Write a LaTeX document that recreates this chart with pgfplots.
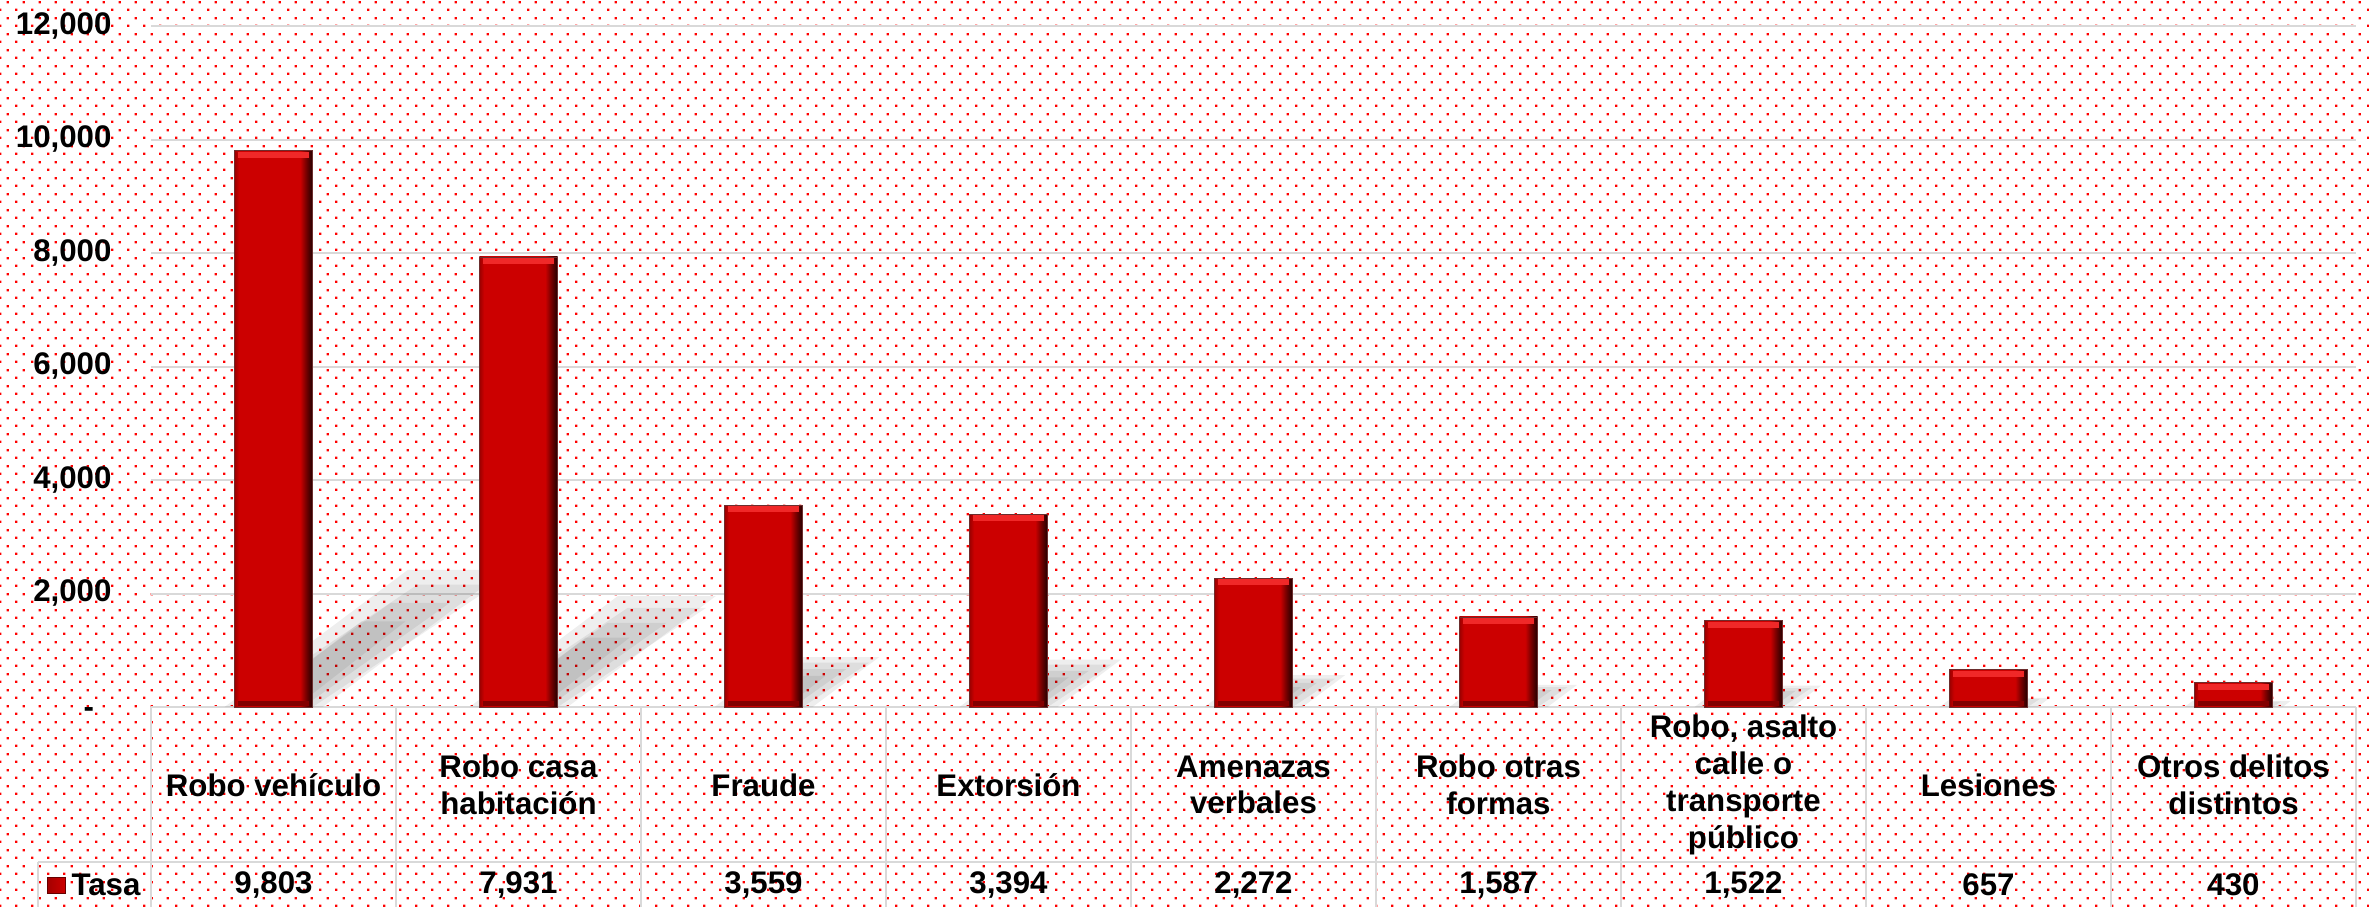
\documentclass[border=0pt]{standalone}
\usepackage{pgfplots}
\pgfplotsset{compat=1.18}
\usepackage{pgfplotstable}
\usepackage{fontspec}
\setmainfont{Liberation Sans}
\usetikzlibrary{patterns.meta}

\definecolor{barred}{RGB}{204,0,0}
\definecolor{topred}{RGB}{240,40,40}
\definecolor{botred}{RGB}{130,0,0}
\definecolor{gridgray}{RGB}{217,217,217}

\pgfdeclarepattern{
  name=reddots, type=uncolored,
  bottom left={\pgfpointorigin}, top right={\pgfpoint{6.4pt}{6.4pt}},
  tile size={\pgfpoint{6.4pt}{6.4pt}},
  code={
    \pgfpathrectangle{\pgfpoint{0pt}{0pt}}{\pgfpoint{1.0pt}{1.0pt}}
    \pgfpathrectangle{\pgfpoint{3.2pt}{3.2pt}}{\pgfpoint{1.0pt}{1.0pt}}
    \pgfusepath{fill}
  }}

\pgfdeclarehorizontalshading{barshade}{100bp}{
  color(0bp)=(barred!75!black); color(25bp)=(barred!75!black);
  color(28bp)=(barred); color(67bp)=(barred);
  color(71bp)=(barred!55!black); color(75bp)=(barred!15!black);
  color(100bp)=(barred!15!black)}

\pgfplotstableread{
x value
0 9803
1 7931
2 3559
3 3394
4 2272
5 1587
6 1522
7 657
8 430
}\datatable

\begin{document}
\begin{tikzpicture}
\useasboundingbox (0,0) rectangle (947.6pt,362.4pt);
\fill[white] (0,0) rectangle (947.6pt,362.4pt);
\fill[pattern=reddots, pattern color=red] (0,0) rectangle (947.6pt,362.4pt);

\begin{axis}[
  at={(60.4pt,79.6pt)}, anchor=south west,
  scale only axis, width=882pt, height=272.4pt,
  xmin=-0.5, xmax=8.5, ymin=0, ymax=12000,
  clip=false,
  axis line style={draw=none},
  major tick length=0pt,
  scaled y ticks=false,
  ymajorgrids, grid style={gridgray, line width=0.8pt},
  ytick={0,2000,4000,6000,8000,10000,12000},
  yticklabels={{-\phantom{0}},{2,000},{4,000},{6,000},{8,000},{10,000},{12,000}},
  yticklabel style={anchor=east, inner sep=0pt, xshift=-15.6pt,
    font=\fontsize{12.5}{14.7}\selectfont\bfseries},
  xtick={0,...,8},
  xticklabels={{Robo vehículo},{Robo casa\\habitación},{Fraude},{Extorsión},
    {Amenazas\\verbales},{Robo otras\\formas},{Robo, asalto\\calle o\\transporte\\público},
    {Lesiones},{Otros delitos\\distintos}},
  xticklabel style={anchor=center, inner sep=0pt, yshift=-31.2pt, align=center,
    font=\fontsize{12.5}{14.7}\selectfont\bfseries},
  /pgf/number format/1000 sep={,},
  /pgf/number format/assume math mode=true,
]
% soft shadows (several translucent layers)
\pgfplotsinvokeforeach{0,...,8}{
  \pgfplotstablegetelem{#1}{value}\of\datatable
  \foreach \f/\w in {1.12/0.20, 1.0/0.16, 0.85/0.12, 0.7/0.09}{
    \pgfmathsetmacro\sxa{#1-\w}
    \pgfmathsetmacro\sxb{#1+\w}
    \pgfmathsetmacro\sxc{#1+\w+0.000071*\f*\pgfplotsretval}
    \pgfmathsetmacro\sxd{#1-\w+0.000071*\f*\pgfplotsretval}
    \pgfmathsetmacro\sy{0.22*\f*\pgfplotsretval}
    \edef\tmp{\noexpand\fill[black, opacity=0.065] (axis cs:\sxa,0) -- (axis cs:\sxb,0) -- (axis cs:\sxc,\sy) -- (axis cs:\sxd,\sy) -- cycle;}
    \tmp
  }
}
% bars, one path each so that each gets its own shading
\pgfplotsinvokeforeach{0,...,8}{
  \addplot[ybar, bar width=0.32, shading=barshade, draw=gray!60!red!60!black, line width=0.3pt,
    x filter/.expression={x==#1 ? x : nan}]
    table[x=x, y=value] {\datatable};
}
% bevel highlights at the top and bottom of each bar
\addplot[only marks, mark=-, mark size=14.2pt, color=topred,
  mark options={line width=2.4pt, yshift=-1.6pt}]
  table[x=x, y=value] {\datatable};
\addplot[only marks, mark=-, mark size=14.2pt, color=botred,
  mark options={line width=2.2pt, yshift=1.5pt}]
  table[x=x, y expr=0] {\datatable};
% value row of the data table
\addplot[draw=none, mark=none, point meta=explicit,
  nodes near coords={\bfseries\pgfmathprintnumber{\pgfplotspointmeta}},
  every node near coord/.append style={anchor=center, inner sep=0pt,
    font=\fontsize{12.5}{14.7}\selectfont\bfseries}]
  table[x=x, y expr=-3138, meta=value] {\datatable};
% data table lines
\draw[gridgray, line width=0.8pt] (axis cs:-0.96,-2732) -- (axis cs:8.5,-2732);
\draw[gridgray, line width=0.8pt] (axis cs:-0.96,-2732) -- (axis cs:-0.96,-3800);
\pgfplotsinvokeforeach{-0.5,0.5,1.5,2.5,3.5,4.5,5.5,6.5,7.5,8.5}{
  \draw[gridgray, line width=0.8pt] (axis cs:#1,0) -- (axis cs:#1,-3800);
}
\end{axis}

\shade[left color=barred!80!black, right color=barred, draw=barred!50!black, line width=0.4pt] (18.8pt,5.2pt) rectangle (26pt,11.6pt);
\node[anchor=west, inner sep=0pt, font=\fontsize{12.5}{14.7}\selectfont\bfseries] at (28.4pt,8.4pt) {Tasa};
\end{tikzpicture}
\end{document}
